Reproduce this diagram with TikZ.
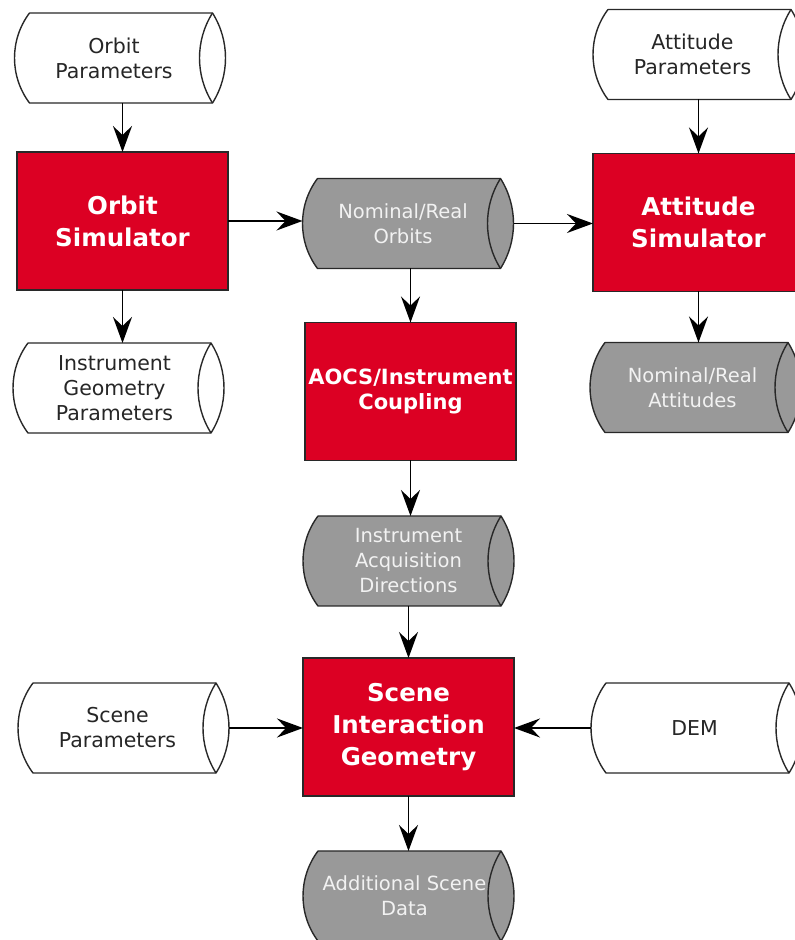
\documentclass[tikz,border=0pt]{standalone}
\usepackage{fontspec}
\setmainfont{DejaVu Sans}
\usetikzlibrary{arrows.meta}

\definecolor{simred}{RGB}{220,0,35}
\definecolor{storegray}{RGB}{153,153,153}
\definecolor{edgegray}{RGB}{40,40,40}
\definecolor{paletext}{RGB}{242,242,242}

\tikzset{
  store/.style={minimum width=211pt, minimum height=90pt, inner sep=0pt, outer sep=0pt},
  storeline/.style={draw=edgegray, line width=1.4pt, line join=round},
  storetext/.style={align=center, inner sep=0pt, text=black!85,
    font=\fontsize{20.5}{25}\selectfont},
  darktext/.style={storetext, text=paletext, font=\fontsize{19.5}{25}\selectfont},
  process/.style={draw=edgegray, fill=simred, line width=1.4pt,
    minimum width=211pt, minimum height=138pt, inner sep=0pt, outer sep=0pt,
    align=center, text=white, font=\bfseries\fontsize{24.5}{32}\selectfont},
  flow/.style={draw=black, line width=1.8pt,
    -{Stealth[length=26pt, width=19pt, inset=9pt]}},
}

% data store outline around a named store node (#1 name, #2 fill colour):
% a left end bulging 15pt and a lens-shaped right end bulging 13pt each way
\newcommand\storeshape[2]{%
  \draw[storeline, fill=#2]
    ([xshift=15pt]#1.north west) -- ([xshift=-13pt]#1.north east)
    arc[start angle=32.23, end angle=-32.23, radius=84.38pt]
    -- ([xshift=15pt]#1.south west)
    arc[start angle=216.87, end angle=143.13, radius=75pt] -- cycle;
  \draw[storeline]
    ([xshift=-13pt]#1.north east)
    arc[start angle=147.77, end angle=212.23, radius=84.38pt];
}

\begin{document}
\begin{tikzpicture}[x=1pt, y=1pt]
  \path[use as bounding box, clip] (0,0) rectangle (795,940);

  % processes
  \node[process] (os)   at (122.5,719)   {Orbit\\Simulator};
  \node[process] (as)   at (698.5,717.5) {Attitude\\Simulator};
  \node[process, font=\bfseries\fontsize{21}{25}\selectfont]
                 (aocs) at (410.5,548.5) {AOCS/Instrument\\Coupling};
  \node[process] (sig)  at (408.5,213)   {Scene\\Interaction\\Geometry};

  % data stores
  \node[store] (op)  at (120,882)     {};
  \node[store] (ig)  at (118.5,552)   {};
  \node[store] (nro) at (408,716.5)   {};
  \node[store] (iad) at (408.5,379)   {};
  \node[store] (asd) at (408.5,44)    {};
  \node[store] (ap)  at (698.5,885.5) {};
  \node[store] (nra) at (695.5,552.5) {};
  \node[store] (sp)  at (123.5,212)   {};
  \node[store] (dem) at (696.5,212)   {};

  \storeshape{op}{white}
  \storeshape{ig}{white}
  \storeshape{nro}{storegray}
  \storeshape{iad}{storegray}
  \storeshape{asd}{storegray}
  \storeshape{ap}{white}
  \storeshape{nra}{storegray}
  \storeshape{sp}{white}
  \storeshape{dem}{white}

  \node[storetext] (op-t)  at ([xshift=-6pt]op.center)  {Orbit\\Parameters};
  \node[storetext] (ig-t)  at ([xshift=-4pt]ig.center)  {Instrument\\Geometry\\Parameters};
  \node[darktext]  (nro-t) at ([xshift=-5pt]nro.center) {Nominal/Real\\Orbits};
  \node[darktext]  (iad-t) at (iad.center)              {Instrument\\Acquisition\\Directions};
  \node[darktext]  (asd-t) at ([xshift=-4pt]asd.center) {Additional Scene\\Data};
  \node[storetext] (ap-t)  at ([xshift=-6pt]ap.center)  {Attitude\\Parameters};
  \node[darktext]  (nra-t) at ([xshift=-3pt]nra.center) {Nominal/Real\\Attitudes};
  \node[storetext] (sp-t)  at ([xshift=-6pt]sp.center)  {Scene\\Parameters};
  \node[storetext] (dem-t) at ([xshift=-2pt]dem.center) {DEM};

  % connectors
  \draw[flow] (op.south -| os.north) -- (os.north);
  \draw[flow] (os.south) -- (os.south |- ig.north);
  \draw[flow] (os.east) -- (os.east -| nro.west);
  \draw[flow] (nro.east) -- (nro.east -| as.west);
  \draw[flow] (nro.south -| aocs.north) -- (aocs.north);
  \draw[flow] (ap.south -| as.north) -- (as.north);
  \draw[flow] (as.south) -- (as.south |- nra.north);
  \draw[flow] (aocs.south) -- (aocs.south |- iad.north);
  \draw[flow] (iad.south -| sig.north) -- (sig.north);
  \draw[flow] (sp.east) -- (sp.east -| sig.west);
  \draw[flow] (dem.west) -- (dem.west -| sig.east);
  \draw[flow] (sig.south) -- (sig.south |- asd.north);
\end{tikzpicture}
\end{document}
